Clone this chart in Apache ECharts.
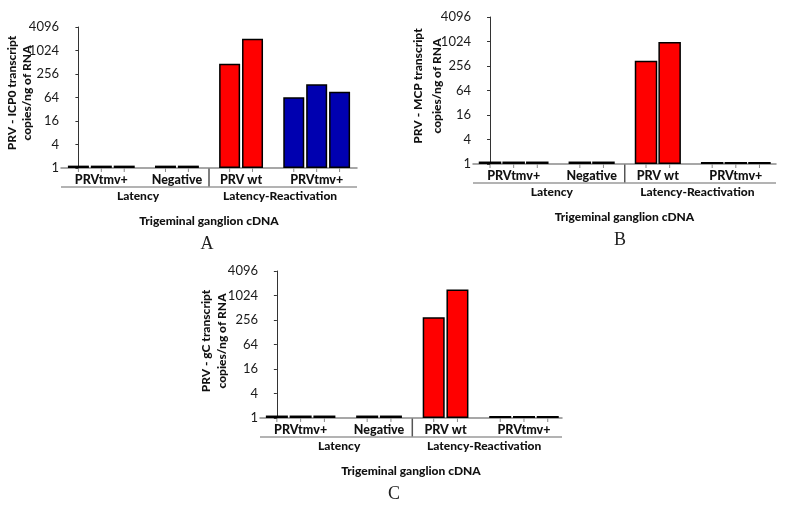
<!DOCTYPE html>
<html>
<head>
<meta charset="utf-8">
<script src="https://cdn.jsdelivr.net/npm/echarts@6/dist/echarts.min.js"></script>
<style>
html,body{margin:0;padding:0;background:#fff;}
#c{width:790px;height:505px;}
</style>
</head>
<body>
<div id="c"></div>
<script>
// ---- data ----
const yTicks = [1, 4, 16, 64, 256, 1024, 4096];
const groupLabels = ['PRVtmv+', 'Negative', 'PRV wt', 'PRVtmv+'];
const groupSizes = [3, 2, 2, 3];
const superLabels = ['Latency', 'Latency-Reactivation'];
const xTitle = 'Trigeminal ganglion cDNA';
const icp0Values = [1.15, 1.15, 1.15, 1.15, 1.15, 471, 2060, 65, 139, 90];
const mcpValues = [1.15, 1.15, 1.15, 1.15, 1.15, 346, 995, 1.12, 1.12, 1.12];
const gcValues = [1.15, 1.15, 1.15, 1.15, 1.15, 300, 1428, 1.12, 1.12, 1.12];
const yTitlesA = ['PRV - ICP0 transcript', 'copies/ng of RNA'];
const yTitlesB = ['PRV - MCP transcript', 'copies/ng of RNA'];
const yTitlesC = ['PRV - gC transcript', 'copies/ng of RNA'];

// ---- style ----
const groupColors = ['#1d5e1d', '#1a1a1a', '#ff0000', '#0000b0'];
const GAP = 0.8;
const FONT = 'Lato, "Open Sans", sans-serif';
const BOLD = '900 12px ' + FONT;

const panels = [
  {values: icp0Values, titles: yTitlesA, letter: 'A',
   grid: {left: 61, top: 27, width: 296, height: 141}, xr: [-0.76, 12.16], barW: 21,
   tx: [12, 27], ty: 93, lx: 207},
  {values: mcpValues, titles: yTitlesB, letter: 'B',
   grid: {left: 473, top: 17, width: 303, height: 147}, xr: [-0.72, 12.1], barW: 22.5,
   tx: [418, 437], ty: 86, lx: 620},
  {values: gcValues, titles: yTitlesC, letter: 'C',
   grid: {left: 260, top: 271, width: 302, height: 147}, xr: [-0.71, 12.0], barW: 22,
   tx: [206, 222], ty: 341, lx: 394}
];

// bar positions along x (layout)
const xPos = [], groupOf = [];
let idx = 0;
groupSizes.forEach((n, g) => {
  for (let j = 0; j < n; j++) { xPos.push(idx + g * GAP); groupOf.push(g); idx++; }
});

const chart = echarts.init(document.getElementById('c'));

const option = {
  animation: false,
  grid: panels.map(p => Object.assign({}, p.grid)),
  xAxis: panels.map((p, i) => ({
    type: 'value', gridIndex: i, min: p.xr[0], max: p.xr[1],
    axisLine: {show: true, lineStyle: {color: '#8a8a8a', width: 1.5}},
    axisTick: {show: false}, axisLabel: {show: false}, splitLine: {show: false}
  })),
  yAxis: panels.map((p, i) => ({
    type: 'log', logBase: 2, gridIndex: i, min: yTicks[0], max: yTicks[yTicks.length - 1],
    interval: 2, splitNumber: 6,
    axisLine: {show: true, lineStyle: {color: '#333', width: 1}},
    axisTick: {show: true, length: 3, lineStyle: {color: '#333'}},
    axisLabel: {color: '#1a1a1a', fontFamily: FONT, fontSize: 13, margin: 2,
      formatter: v => String(Math.round(v))},
    splitLine: {show: false}
  })),
  series: panels.map((p, i) => ({
    type: 'bar', xAxisIndex: i, yAxisIndex: i, barWidth: p.barW,
    itemStyle: {borderColor: '#000', borderWidth: 1.5},
    data: p.values.map((v, k) => ({value: [xPos[k], v], itemStyle: {color: groupColors[groupOf[k]]}}))
  }))
};
chart.setOption(option);

const graphics = [];
const txt = (x, y, s, opt) => graphics.push(Object.assign({
  type: 'text', x: x, y: y,
  style: Object.assign({text: s, fill: '#111', font: BOLD, textAlign: 'center', textVerticalAlign: 'middle'}, opt || {})
}));
const line = (x1, y1, x2, y2, color, w) => graphics.push({
  type: 'line', shape: {x1: x1, y1: y1, x2: x2, y2: y2}, style: {stroke: color, lineWidth: w}
});

panels.forEach((p, i) => {
  const finder = {xAxisIndex: i, yAxisIndex: i};
  const px = x => chart.convertToPixel(finder, [x, 1])[0];
  const bottom = chart.convertToPixel(finder, [0, 1])[1];
  const left = p.grid.left, right = p.grid.left + p.grid.width;
  // ticks under bars
  xPos.forEach(x => line(px(x), bottom, px(x), bottom + 4, '#8a8a8a', 1));
  // group labels
  let s = 0;
  const groupEnds = [];
  groupSizes.forEach((n, g) => {
    const c = (px(xPos[s]) + px(xPos[s + n - 1])) / 2;
    groupEnds.push([xPos[s], xPos[s + n - 1]]);
    txt(c, bottom + 11.5, groupLabels[g], {font: '900 12.5px ' + FONT});
    s += n;
  });
  const sep = px((groupEnds[1][1] + groupEnds[2][0]) / 2);
  line(sep, bottom, sep, bottom + 19, '#555', 1.5);
  line(left, bottom + 19, right, bottom + 19, '#9a9a9a', 1.5);
  txt((left + sep) / 2 + 3, bottom + 28.5, superLabels[0]);
  txt((sep + right) / 2 - 3, bottom + 28.5, superLabels[1]);
  txt((left + right) / 2, bottom + 53, xTitle);
  txt(p.lx, bottom + 76, p.letter, {font: '18px "Liberation Serif", "DejaVu Serif", serif', fill: '#222'});
  // y-axis title (two rotated lines)
  p.titles.forEach((t, k) => graphics.push({
    type: 'text', x: p.tx[k], y: p.ty, rotation: Math.PI / 2,
    style: {text: t, fill: '#111', font: BOLD, textAlign: 'center', textVerticalAlign: 'middle'}
  }));
});

chart.setOption({graphic: graphics});
</script>
</body>
</html>
